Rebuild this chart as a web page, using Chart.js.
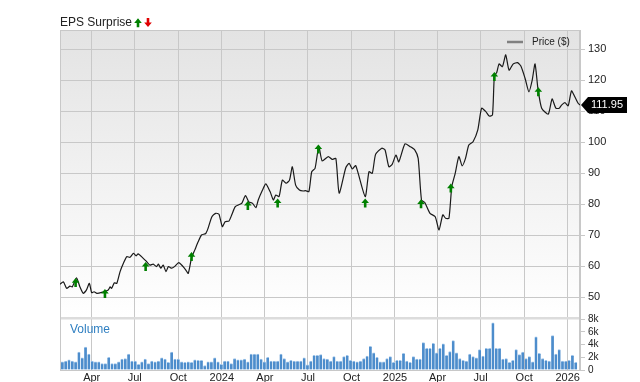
<!DOCTYPE html>
<html>
<head>
<meta charset="utf-8">
<script src="https://cdn.jsdelivr.net/npm/chart.js@4.4.1/dist/chart.umd.min.js"></script>
<style>
  html, body { margin: 0; padding: 0; background: #fff; }
  canvas { display: block; }
</style>
</head>
<body>
<canvas id="chart" width="640" height="382"></canvas>
<script>
// day numbers count from 2023-01-24 (left edge of the plot)
var START = Date.UTC(2023, 0, 24);
function dayOf(s) { return (Date.parse(s) - START) / 864e5; }

var tickDates = ['2023-04-01', '2023-07-01', '2023-10-01', '2024-01-01', '2024-04-01', '2024-07-01',
                 '2024-10-01', '2025-01-01', '2025-04-01', '2025-07-01', '2025-10-01', '2026-01-01'];
var tickLabels = ['Apr', 'Jul', 'Oct', '2024', 'Apr', 'Jul', 'Oct', '2025', 'Apr', 'Jul', 'Oct', '2026'];
var priceTicks = [50, 60, 70, 80, 90, 100, 110, 120, 130];
var volumeTicks = [0, 2, 4, 6, 8];

var priceDays = [0,7,14,21,26,35,42,49,56,62,67,72,78,88,102,106,109,115,120,127,
  134,141,148,155,161,165,174,183,190,197,204,208,213,218,224,229,236,242,251,259,
  266,271,278,285,292,299,308,313,321,329,336,343,349,357,363,370,377,384,392,399,
  407,414,419,428,435,444,451,456,463,470,478,485,491,498,506,514,519,526,532,539,
  547,554,567,575,583,590,604,611,618,625,645,653,660,667,680,687,695,702,710,716,
  729,740,750,757,764,771,782,793,801,809,815,822,828,835,843,850,857,864,873,883,
  891,900,907,914,918,923,928,935,942,949,958,967,974,983,991,998,1004,1010,1018,1032,
  1040,1048,1055,1060,1067,1074,1081,1088,1095,1099];
var prices = [54.1,54.9,52.8,53.5,53.3,56.2,53.3,51.2,52.3,54.4,51.4,51.7,51.2,51.5,52.3,53.3,52.8,54.6,54.4,58.2,
  60.9,63.0,62.8,64.1,63.3,63.9,62.8,61.4,60.3,60.6,59.8,60.6,59.3,60.3,58.2,59.8,59.3,59.8,61.1,60.0,
  58.7,57.6,62.6,65.2,67.8,70.0,70.5,72.2,75.9,77.0,76.7,72.7,74.3,74.5,76.5,79.1,79.7,80.2,82.7,80.7,
  80.2,78.8,81.3,84.5,86.5,84.0,81.3,82.9,82.4,87.7,86.7,87.7,92.0,86.1,84.5,84.2,84.3,84.0,90.4,91.5,
  98.6,93.9,95.3,94.4,94.7,83.5,91.7,93.1,91.3,92.4,82.4,90.4,89.9,96.0,98.0,97.4,92.0,92.8,95.8,93.6,
  99.4,98.5,97.4,94.7,81.3,80.5,77.0,75.9,71.6,76.5,75.4,75.4,85.6,89.7,95.3,92.3,94.7,99.0,100.1,103.9,
  110.9,109.8,108.4,108.7,121.3,122.4,125.2,124.3,128.1,123.2,125.2,125.6,124.5,120.5,116.2,120.0,125.2,117.3,110.9,109.0,
  113.9,110.9,110.9,111.9,112.7,111.7,116.5,114.6,112.5,111.95];

// EPS beats (all green up arrows)
var epsDays = [33, 95, 181, 278, 397, 460, 546, 645, 763, 826, 918, 1011];
var epsPrices = [56.1, 52.6, 61.3, 64.5, 81.0, 81.8, 99.2, 81.8, 81.5, 86.6, 122.6, 117.7];

// weekly volume, thousands
var volumes = [1.3,1.4,1.6,1.4,1.3,2.8,1.9,3.6,2.5,1.4,
  1.3,1.3,1.0,1.0,2.0,1.0,1.0,1.3,1.7,1.8,
  2.5,1.4,1.4,0.9,1.3,1.7,1.0,1.4,1.3,1.4,
  1.9,1.7,1.2,2.8,1.7,1.7,1.3,1.2,1.3,1.2,
  1.6,1.5,1.5,0.7,1.3,1.3,1.9,1.3,0.9,1.4,
  1.4,1.0,1.8,1.6,1.6,1.7,1.3,2.5,2.5,2.5,
  1.7,1.3,2.0,1.4,1.4,1.4,2.5,1.8,1.3,1.5,
  1.4,1.4,1.4,1.9,0.8,1.4,2.3,2.3,
  2.4,1.8,1.7,1.4,2.1,1.4,1.4,2.1,2.3,1.5,
  1.4,1.3,1.4,1.8,2.2,3.7,2.7,2.0,1.3,1.3,
  1.8,2.1,1.2,1.5,1.5,2.6,1.4,1.2,2.1,1.7,
  1.7,4.3,3.4,3.4,4.2,2.7,3.4,4.1,2.3,2.9,
  4.6,2.7,1.8,1.5,1.4,2.5,2.1,1.9,3.2,2.2,
  3.4,3.4,7.4,3.4,3.4,1.7,1.8,1.2,1.5,3.2,
  2.4,2.8,1.8,2.1,1.3,5.2,2.6,1.8,1.5,1.4,
  5.4,2.5,3.2,1.4,1.4,1.5,2.3,1.2];
var volumeDays = volumes.map(function (v, i) { return 5 + 7 * i; });

var lastPrice = prices[prices.length - 1];
var tickDays = tickDates.map(dayOf);

Chart.defaults.font.family = "'Liberation Sans', Arial, sans-serif";
Chart.defaults.font.size = 11;
Chart.defaults.color = '#222';

function arrow(ctx, cx, tipY, up, color) {
  var d = up ? 1 : -1;
  ctx.fillStyle = color;
  ctx.beginPath();
  ctx.moveTo(cx, tipY);
  ctx.lineTo(cx + 3.8, tipY + d * 4.6);
  ctx.lineTo(cx + 1.3, tipY + d * 4.6);
  ctx.lineTo(cx + 1.3, tipY + d * 9);
  ctx.lineTo(cx - 1.3, tipY + d * 9);
  ctx.lineTo(cx - 1.3, tipY + d * 4.6);
  ctx.lineTo(cx - 3.8, tipY + d * 4.6);
  ctx.closePath();
  ctx.fill();
}

var decor = {
  id: 'decor',
  beforeDraw: function (chart) {
    var ctx = chart.ctx, a = chart.chartArea, y = chart.scales.y;
    ctx.save();
    ctx.fillStyle = '#fff';
    ctx.fillRect(0, 0, chart.width, chart.height);
    var g = ctx.createLinearGradient(0, y.top, 0, y.bottom);
    g.addColorStop(0, '#e3e3e3');
    g.addColorStop(1, '#ffffff');
    ctx.fillStyle = g;
    ctx.fillRect(a.left, y.top, a.right - a.left, y.bottom - y.top);
    ctx.restore();
  },
  beforeDatasetsDraw: function (chart) {
    var ctx = chart.ctx, a = chart.chartArea, y = chart.scales.y;
    ctx.save();
    ctx.fillStyle = '#dcdcdc';
    ctx.fillRect(a.left, y.bottom - 1, a.right - a.left, 2.5);
    ctx.strokeStyle = '#c8c8c8';
    ctx.lineWidth = 1;
    ctx.strokeRect(a.left + 0.5, a.top + 0.5, a.right - a.left - 1, a.bottom - a.top);
    ctx.restore();
  },
  afterDatasetsDraw: function (chart) {
    var ctx = chart.ctx, a = chart.chartArea, x = chart.scales.x, y = chart.scales.y;
    ctx.save();
    epsDays.forEach(function (d, i) {
      arrow(ctx, x.getPixelForValue(d), y.getPixelForValue(epsPrices[i]), true, '#008000');
    });

    // title
    ctx.font = "12px 'Liberation Sans', Arial, sans-serif";
    ctx.textBaseline = 'middle';
    ctx.textAlign = 'left';
    ctx.fillStyle = '#222';
    ctx.fillText('EPS Surprise', a.left, 23);
    arrow(ctx, 138, 18.3, true, '#008000');
    arrow(ctx, 148, 27, false, '#e00000');

    // legend
    ctx.strokeStyle = '#808080';
    ctx.lineWidth = 2.5;
    ctx.beginPath();
    ctx.moveTo(507, 42);
    ctx.lineTo(523, 42);
    ctx.stroke();
    ctx.font = "10px 'Liberation Sans', Arial, sans-serif";
    ctx.fillStyle = '#222';
    ctx.fillText('Price ($)', 532, 42);

    // volume label
    ctx.font = "12px 'Liberation Sans', Arial, sans-serif";
    ctx.fillStyle = '#2f7fc1';
    ctx.fillText('Volume', 70, 330);
    ctx.restore();
  },
  afterDraw: function (chart) {
    var ctx = chart.ctx, a = chart.chartArea, y = chart.scales.y;
    var py = y.getPixelForValue(lastPrice);
    ctx.save();
    ctx.fillStyle = '#000';
    ctx.beginPath();
    ctx.moveTo(a.right + 1, py);
    ctx.lineTo(a.right + 8, py - 8);
    ctx.lineTo(a.right + 47, py - 8);
    ctx.lineTo(a.right + 47, py + 8);
    ctx.lineTo(a.right + 8, py + 8);
    ctx.closePath();
    ctx.fill();
    ctx.fillStyle = '#fff';
    ctx.font = "11px 'Liberation Sans', Arial, sans-serif";
    ctx.textBaseline = 'middle';
    ctx.fillText(lastPrice.toFixed(2), a.right + 11, py + 0.5);
    ctx.restore();
  }
};

new Chart(document.getElementById('chart'), {
  type: 'line',
  data: {
    datasets: [{
      label: 'Price ($)',
      data: priceDays.map(function (d, i) { return { x: d, y: prices[i] }; }),
      yAxisID: 'y',
      borderColor: '#1a1a1a',
      borderWidth: 1.2,
      pointRadius: 0,
      tension: 0.2,
      fill: false
    }, {
      type: 'bar',
      label: 'Volume',
      data: volumeDays.map(function (d, i) { return { x: d, y: volumes[i] }; }),
      yAxisID: 'yv',
      backgroundColor: '#4d8dcc',
      borderColor: '#9fc5ea',
      borderWidth: { top: 1, left: 0, right: 0, bottom: 0 },
      borderSkipped: 'bottom',
      barThickness: 2.7
    }]
  },
  options: {
    responsive: false,
    animation: false,
    devicePixelRatio: 1,
    layout: { padding: { left: 60, top: 30, right: 0, bottom: 0 } },
    plugins: { legend: { display: false }, title: { display: false }, tooltip: { enabled: false } },
    scales: {
      x: {
        type: 'linear',
        min: 0,
        max: 1099,
        offset: false,
        grid: { color: '#c8c8c8', drawTicks: false, offset: false },
        border: { display: false },
        afterBuildTicks: function (s) { s.ticks = tickDays.map(function (v) { return { value: v }; }); },
        afterFit: function (s) { s.height = 12; },
        ticks: {
          autoSkip: false,
          maxRotation: 0,
          padding: 1,
          callback: function (v) { return tickLabels[tickDays.indexOf(v)]; }
        }
      },
      y: {
        position: 'right',
        stack: 'panels',
        stackWeight: 288,
        min: 43.23,
        max: 136.13,
        grid: { color: '#c8c8c8', tickLength: 5 },
        border: { color: '#c8c8c8' },
        afterBuildTicks: function (s) { s.ticks = priceTicks.map(function (v) { return { value: v }; }); },
        afterFit: function (s) { s.width = 60; },
        ticks: { autoSkip: false, padding: 3, font: { size: 11 } }
      },
      yv: {
        position: 'right',
        stack: 'panels',
        stackWeight: 52,
        min: 0,
        max: 8.157,
        grid: { color: '#c8c8c8', tickLength: 5, drawOnChartArea: false },
        border: { color: '#c8c8c8' },
        afterBuildTicks: function (s) { s.ticks = volumeTicks.map(function (v) { return { value: v }; }); },
        afterFit: function (s) { s.width = 60; },
        ticks: { autoSkip: false, padding: 3, font: { size: 10 }, callback: function (v) { return v === 0 ? '0' : v + 'k'; } }
      }
    }
  },
  plugins: [decor]
});
</script>
</body>
</html>
